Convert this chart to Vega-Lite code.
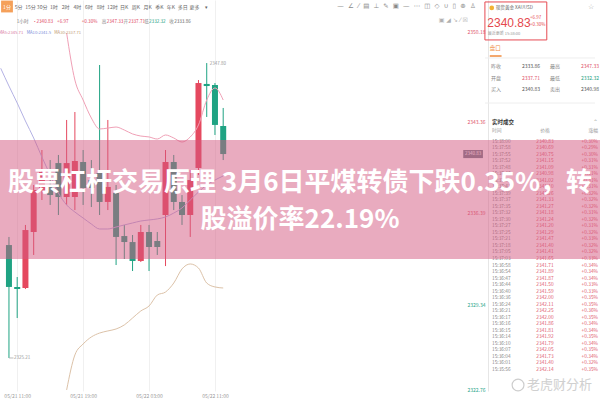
{
  "$schema": "https://vega.github.io/schema/vega-lite/v6.json",
  "width": 600,
  "height": 391,
  "autosize": {"type": "none"},
  "padding": {"left": 0, "top": 0, "right": 0, "bottom": 9},
  "background": "#ffffff",
  "config": {"view": {"stroke": null}, "font": "Noto Sans CJK SC"},
  "datasets": {
    "candles": [
      {"i": 0, "o": 2333.86, "h": 2334.48, "l": 2325.21, "c": 2330.65},
      {"i": 1, "o": 2330.65, "h": 2331.41, "l": 2328.27, "c": 2330.49},
      {"i": 2, "o": 2330.57, "h": 2335.40, "l": 2330.49, "c": 2335.01},
      {"i": 3, "o": 2334.86, "h": 2338.46, "l": 2333.10, "c": 2338.08},
      {"i": 4, "o": 2338.08, "h": 2341.14, "l": 2337.31, "c": 2339.46},
      {"i": 5, "o": 2338.46, "h": 2340.37, "l": 2336.93, "c": 2337.69},
      {"i": 6, "o": 2340.14, "h": 2340.76, "l": 2336.16, "c": 2337.54},
      {"i": 7, "o": 2337.54, "h": 2343.44, "l": 2336.93, "c": 2340.14},
      {"i": 8, "o": 2337.54, "h": 2344.05, "l": 2336.54, "c": 2340.30},
      {"i": 9, "o": 2340.22, "h": 2341.14, "l": 2336.93, "c": 2338.23},
      {"i": 10, "o": 2338.84, "h": 2340.37, "l": 2336.77, "c": 2338.23},
      {"i": 11, "o": 2339.38, "h": 2347.65, "l": 2336.16, "c": 2337.16},
      {"i": 12, "o": 2337.16, "h": 2343.44, "l": 2336.54, "c": 2338.31},
      {"i": 13, "o": 2337.85, "h": 2338.46, "l": 2332.33, "c": 2334.48},
      {"i": 14, "o": 2334.55, "h": 2335.40, "l": 2332.79, "c": 2334.09},
      {"i": 15, "o": 2334.09, "h": 2334.63, "l": 2331.87, "c": 2332.64},
      {"i": 16, "o": 2332.64, "h": 2335.40, "l": 2332.56, "c": 2334.86},
      {"i": 17, "o": 2334.86, "h": 2335.40, "l": 2331.87, "c": 2333.71},
      {"i": 18, "o": 2334.17, "h": 2334.86, "l": 2333.10, "c": 2333.71},
      {"i": 19, "o": 2336.16, "h": 2341.14, "l": 2332.25, "c": 2340.22},
      {"i": 20, "o": 2340.22, "h": 2340.76, "l": 2336.54, "c": 2337.16},
      {"i": 21, "o": 2337.16, "h": 2337.69, "l": 2335.40, "c": 2336.16},
      {"i": 22, "o": 2336.16, "h": 2339.61, "l": 2334.48, "c": 2338.84},
      {"i": 23, "o": 2339.76, "h": 2346.50, "l": 2339.23, "c": 2346.27},
      {"i": 24, "o": 2346.20, "h": 2347.80, "l": 2343.67, "c": 2346.04},
      {"i": 25, "o": 2346.12, "h": 2346.27, "l": 2342.29, "c": 2343.06},
      {"i": 26, "o": 2342.98, "h": 2344.36, "l": 2340.37, "c": 2340.83}
    ],
    "ma": [
      {"ma": "MA5", "i": 7, "p": 2350.10}, {"ma": "MA5", "i": 8, "p": 2346.50}, {"ma": "MA5", "i": 9, "p": 2344.97},
      {"ma": "MA5", "i": 10, "p": 2343.59}, {"ma": "MA5", "i": 11, "p": 2342.75}, {"ma": "MA5", "i": 12, "p": 2342.82},
      {"ma": "MA5", "i": 13, "p": 2342.90}, {"ma": "MA5", "i": 14, "p": 2342.67}, {"ma": "MA5", "i": 15, "p": 2342.37},
      {"ma": "MA5", "i": 16, "p": 2342.21}, {"ma": "MA5", "i": 17, "p": 2342.14}, {"ma": "MA5", "i": 18, "p": 2341.98},
      {"ma": "MA5", "i": 19, "p": 2342.29}, {"ma": "MA5", "i": 20, "p": 2342.06}, {"ma": "MA5", "i": 21, "p": 2341.75},
      {"ma": "MA5", "i": 22, "p": 2342.14}, {"ma": "MA5", "i": 23, "p": 2343.06}, {"ma": "MA5", "i": 24, "p": 2344.97},
      {"ma": "MA5", "i": 25, "p": 2345.89}, {"ma": "MA5", "i": 26, "p": 2344.97},
      {"ma": "MA10", "i": -1, "p": 2347.40}, {"ma": "MA10", "i": 0, "p": 2346.04}, {"ma": "MA10", "i": 1, "p": 2344.74},
      {"ma": "MA10", "i": 2, "p": 2343.36}, {"ma": "MA10", "i": 3, "p": 2342.06}, {"ma": "MA10", "i": 4, "p": 2340.60},
      {"ma": "MA10", "i": 5, "p": 2339.23}, {"ma": "MA10", "i": 6, "p": 2337.85}, {"ma": "MA10", "i": 7, "p": 2336.93},
      {"ma": "MA10", "i": 8, "p": 2336.39}, {"ma": "MA10", "i": 9, "p": 2335.93}, {"ma": "MA10", "i": 10, "p": 2335.47},
      {"ma": "MA10", "i": 11, "p": 2335.09}, {"ma": "MA10", "i": 12, "p": 2335.09}, {"ma": "MA10", "i": 13, "p": 2335.24},
      {"ma": "MA10", "i": 14, "p": 2335.40}, {"ma": "MA10", "i": 15, "p": 2335.55}, {"ma": "MA10", "i": 16, "p": 2335.70},
      {"ma": "MA10", "i": 17, "p": 2335.78}, {"ma": "MA10", "i": 18, "p": 2335.86}, {"ma": "MA10", "i": 19, "p": 2336.01},
      {"ma": "MA10", "i": 20, "p": 2336.31}, {"ma": "MA10", "i": 21, "p": 2336.70}, {"ma": "MA10", "i": 22, "p": 2337.31},
      {"ma": "MA10", "i": 23, "p": 2337.92}, {"ma": "MA10", "i": 24, "p": 2338.46}, {"ma": "MA10", "i": 25, "p": 2338.84},
      {"ma": "MA10", "i": 26, "p": 2339.15},
      {"ma": "MA30", "i": 7, "p": 2322.76}, {"ma": "MA30", "i": 8, "p": 2325.44}, {"ma": "MA30", "i": 9, "p": 2326.28},
      {"ma": "MA30", "i": 10, "p": 2326.82}, {"ma": "MA30", "i": 11, "p": 2327.12}, {"ma": "MA30", "i": 12, "p": 2327.28},
      {"ma": "MA30", "i": 13, "p": 2327.43}, {"ma": "MA30", "i": 14, "p": 2327.74}, {"ma": "MA30", "i": 15, "p": 2328.27},
      {"ma": "MA30", "i": 16, "p": 2328.81}, {"ma": "MA30", "i": 17, "p": 2329.19}, {"ma": "MA30", "i": 18, "p": 2330.03},
      {"ma": "MA30", "i": 19, "p": 2330.26}, {"ma": "MA30", "i": 20, "p": 2330.95}, {"ma": "MA30", "i": 21, "p": 2332.03},
      {"ma": "MA30", "i": 22, "p": 2332.41}, {"ma": "MA30", "i": 23, "p": 2332.10}, {"ma": "MA30", "i": 24, "p": 2330.95},
      {"ma": "MA30", "i": 25, "p": 2330.65}, {"ma": "MA30", "i": 26, "p": 2330.57}
    ],
    "tabs": [
      {"k": 0, "t": "1分"}, {"k": 1, "t": "5分"}, {"k": 2, "t": "15分"}, {"k": 3, "t": "30分"},
      {"k": 4, "t": "1时"}, {"k": 5, "t": "2时"}, {"k": 6, "t": "4时"}, {"k": 7, "t": "6时"},
      {"k": 8, "t": "8时"}, {"k": 9, "t": "12时"}, {"k": 10, "t": "日K"}, {"k": 11, "t": "周K"},
      {"k": 12, "t": "月K"}, {"k": 13, "t": "季K"}, {"k": 14, "t": "年K"}, {"k": 15, "t": "多日"},
      {"k": 16, "t": "更多"}, {"k": 17, "t": "▾"}
    ],
    "stats": [
      {"r": 1, "pair": 1, "label": "昨收", "v": 2333.86, "kind": "prev"},
      {"r": 1, "pair": 2, "label": "最高", "v": 2347.33, "kind": "high"},
      {"r": 2, "pair": 1, "label": "开盘", "v": 2337.71, "kind": "open"},
      {"r": 2, "pair": 2, "label": "最低", "v": 2332.32, "kind": "low"},
      {"r": 3, "pair": 1, "label": "买入", "v": 2340.83, "kind": "bid"},
      {"r": 3, "pair": 2, "label": "卖出", "v": 2340.98, "kind": "ask"}
    ],
    "trades": [
      {"n": 1, "time": "15:38:00", "price": 2340.83, "chg": "+0.30%"},
      {"n": 2, "time": "15:37:58", "price": 2340.69, "chg": "+0.29%"},
      {"n": 3, "time": "15:37:55", "price": 2340.75, "chg": "+0.30%"},
      {"n": 4, "time": "15:37:52", "price": 2341.15, "chg": "+0.31%"},
      {"n": 5, "time": "15:37:48", "price": 2341.09, "chg": "+0.31%"},
      {"n": 6, "time": "15:37:46", "price": 2340.98, "chg": "+0.31%"},
      {"n": 7, "time": "15:37:44", "price": 2341.02, "chg": "+0.31%"},
      {"n": 8, "time": "15:37:41", "price": 2341.10, "chg": "+0.31%"},
      {"n": 9, "time": "15:37:39", "price": 2341.26, "chg": "+0.32%"},
      {"n": 10, "time": "15:37:37", "price": 2341.33, "chg": "+0.32%"},
      {"n": 11, "time": "15:37:35", "price": 2341.27, "chg": "+0.32%"},
      {"n": 12, "time": "15:37:32", "price": 2341.18, "chg": "+0.31%"},
      {"n": 13, "time": "15:37:30", "price": 2341.24, "chg": "+0.32%"},
      {"n": 14, "time": "15:37:27", "price": 2341.20, "chg": "+0.31%"},
      {"n": 15, "time": "15:37:25", "price": 2341.29, "chg": "+0.32%"},
      {"n": 16, "time": "15:37:21", "price": 2341.47, "chg": "+0.33%"},
      {"n": 17, "time": "15:37:18", "price": 2341.40, "chg": "+0.32%"},
      {"n": 18, "time": "15:37:05", "price": 2341.41, "chg": "+0.32%"},
      {"n": 19, "time": "15:37:03", "price": 2341.65, "chg": "+0.33%"},
      {"n": 20, "time": "15:36:58", "price": 2341.71, "chg": "+0.34%"},
      {"n": 21, "time": "15:36:54", "price": 2341.89, "chg": "+0.34%"},
      {"n": 22, "time": "15:36:47", "price": 2341.87, "chg": "+0.34%"},
      {"n": 23, "time": "15:36:44", "price": 2341.50, "chg": "+0.33%"},
      {"n": 24, "time": "15:36:40", "price": 2341.59, "chg": "+0.33%"},
      {"n": 25, "time": "15:36:36", "price": 2342.00, "chg": "+0.35%"},
      {"n": 26, "time": "15:36:24", "price": 2342.11, "chg": "+0.35%"},
      {"n": 27, "time": "15:36:21", "price": 2342.25, "chg": "+0.36%"},
      {"n": 28, "time": "15:36:17", "price": 2342.00, "chg": "+0.35%"},
      {"n": 29, "time": "15:36:16", "price": 2341.86, "chg": "+0.34%"},
      {"n": 30, "time": "15:36:15", "price": 2341.81, "chg": "+0.34%"},
      {"n": 31, "time": "15:36:14", "price": 2341.92, "chg": "+0.35%"},
      {"n": 32, "time": "15:36:10", "price": 2341.79, "chg": "+0.34%"},
      {"n": 33, "time": "15:36:07", "price": 2342.05, "chg": "+0.35%"},
      {"n": 34, "time": "15:36:04", "price": 2341.73, "chg": "+0.34%"},
      {"n": 35, "time": "15:36:01", "price": 2341.40, "chg": "+0.32%"},
      {"n": 36, "time": "15:35:56", "price": 2342.14, "chg": "+0.35%"}
    ]
  },
  "layer": [
    {
      "layer": [
        {
          "data": {"name": "candles"},
          "mark": {"type": "rule", "strokeWidth": 1},
          "encoding": {
            "x": {"field": "i", "type": "quantitative",
              "scale": {"domain": [-0.48, 71.12], "nice": false, "zero": false},
              "axis": {"values": [1, 9, 17, 25], "title": null,
                "labelExpr": "datum.value == 1 ? '05/21 11:00' : datum.value == 9 ? '05/21 19:00' : datum.value == 17 ? '05/22 03:00' : '05/22 11:00'",
                "labelFontSize": 5, "labelColor": "#9a9a9a", "ticks": false, "domain": false,
                "grid": true, "gridColor": "#f0f0f0", "labelPadding": 2, "labelFlush": false}},
            "y": {"field": "l", "type": "quantitative",
              "scale": {"domain": [2322.68, 2352.63], "nice": false, "zero": false},
              "axis": {"orient": "left", "offset": -488, "values": [2350.18, 2343.36, 2336.39, 2329.34, 2322.76],
                "format": ".2f", "title": null, "labelFontSize": 5,
                "labelColor": {"condition": {"test": "datum.value > 2333", "value": "#e0566b"}, "value": "#2aa58a"},
                "ticks": false, "domain": true, "domainColor": "#e6e6e6", "grid": false, "labelPadding": 3}},
            "y2": {"field": "h"},
            "color": {"condition": {"test": "datum.c >= datum.o", "value": "#e5495f"}, "value": "#1fa383"}
          }
        },
        {
          "data": {"name": "candles"},
          "mark": {"type": "bar", "width": 6},
          "encoding": {
            "x": {"field": "i", "type": "quantitative"},
            "y": {"field": "o", "type": "quantitative"},
            "y2": {"field": "c"},
            "color": {"condition": {"test": "datum.c >= datum.o", "value": "#e5495f"}, "value": "#1fa383"}
          }
        },
        {
          "data": {"name": "ma"},
          "mark": {"type": "line", "strokeWidth": 1, "clip": true, "interpolate": "monotone"},
          "encoding": {
            "x": {"field": "i", "type": "quantitative"},
            "y": {"field": "p", "type": "quantitative"},
            "color": {"field": "ma", "type": "nominal", "legend": null,
              "scale": {"domain": ["MA5", "MA10", "MA30"], "range": ["#f0a0b6", "#b4b2e4", "#dcc2a8"]}}
          }
        },
        {"data": {"values": [{}]}, "mark": {"type": "rule", "color": "#aaaaaa", "strokeWidth": 0.8},
          "encoding": {"x": {"datum": 0}, "x2": {"datum": 0.55}, "y": {"datum": 2325.21}}},
        {"data": {"values": [{}]}, "mark": {"type": "text", "align": "left", "baseline": "middle", "fontSize": 4.5, "color": "#999999", "dx": 5},
          "encoding": {"x": {"datum": 0}, "y": {"datum": 2325.21}, "text": {"value": "2325.21"}}},
        {"data": {"values": [{}]}, "mark": {"type": "text", "align": "left", "baseline": "middle", "fontSize": 4.5, "color": "#999999", "dx": 3},
          "encoding": {"x": {"datum": 24}, "y": {"datum": 2347.72}, "text": {"value": "2347.80"}}},
        {"data": {"values": [{}]}, "mark": {"type": "rect", "color": "#6f7d89"},
          "encoding": {"x": {"datum": 55.13}, "x2": {"datum": 57.52}, "y": {"datum": 2341.14}, "y2": {"datum": 2340.52}}},
        {"data": {"values": [{}]}, "mark": {"type": "text", "align": "center", "baseline": "middle", "fontSize": 4.5, "color": "#ffffff"},
          "encoding": {"x": {"datum": 56.32}, "y": {"datum": 2340.83}, "text": {"value": "2340.83"}}},

        {"data": {"values": [{}]}, "mark": {"type": "text", "align": "left", "baseline": "middle", "fontSize": 4.6, "color": "#777777"},
          "encoding": {"x": {"datum": 0.95}, "y": {"datum": 2350.98}, "text": {"value": "1小时"}}},
        {"data": {"values": [{}]}, "mark": {"type": "text", "align": "left", "baseline": "middle", "fontSize": 4.6, "color": "#e0485f"},
          "encoding": {"x": {"datum": 2.86}, "y": {"datum": 2350.98}, "text": {"value": "•"}}},
        {"data": {"values": [{}]}, "mark": {"type": "text", "align": "left", "baseline": "middle", "fontSize": 4.6, "color": "#e0485f"},
          "encoding": {"x": {"datum": 3.34}, "y": {"datum": 2350.98}, "text": {"value": "2340.83"}}},
        {"data": {"values": [{}]}, "mark": {"type": "text", "align": "left", "baseline": "middle", "fontSize": 4.6, "color": "#e0485f"},
          "encoding": {"x": {"datum": 5.84}, "y": {"datum": 2350.98}, "text": {"value": "+6.97"}}},
        {"data": {"values": [{}]}, "mark": {"type": "text", "align": "left", "baseline": "middle", "fontSize": 4.6, "color": "#e0485f"},
          "encoding": {"x": {"datum": 8.83}, "y": {"datum": 2350.98}, "text": {"value": "+0.30%"}}},
        {"data": {"values": [{}]}, "mark": {"type": "text", "align": "left", "baseline": "middle", "fontSize": 4.6, "color": "#888888"},
          "encoding": {"x": {"datum": 11.27}, "y": {"datum": 2350.98}, "text": {"value": "高"}}},
        {"data": {"values": [{}]}, "mark": {"type": "text", "align": "left", "baseline": "middle", "fontSize": 4.6, "color": "#e0485f"},
          "encoding": {"x": {"datum": 11.87}, "y": {"datum": 2350.98}, "text": {"value": "2347.33"}}},
        {"data": {"values": [{}]}, "mark": {"type": "text", "align": "left", "baseline": "middle", "fontSize": 4.6, "color": "#888888"},
          "encoding": {"x": {"datum": 13.90}, "y": {"datum": 2350.98}, "text": {"value": "开"}}},
        {"data": {"values": [{}]}, "mark": {"type": "text", "align": "left", "baseline": "middle", "fontSize": 4.6, "color": "#e0485f"},
          "encoding": {"x": {"datum": 14.50}, "y": {"datum": 2350.98}, "text": {"value": "2337.71"}}},
        {"data": {"values": [{}]}, "mark": {"type": "text", "align": "left", "baseline": "middle", "fontSize": 4.6, "color": "#888888"},
          "encoding": {"x": {"datum": 16.41}, "y": {"datum": 2350.98}, "text": {"value": "低"}}},
        {"data": {"values": [{}]}, "mark": {"type": "text", "align": "left", "baseline": "middle", "fontSize": 4.6, "color": "#1fa383"},
          "encoding": {"x": {"datum": 17.00}, "y": {"datum": 2350.98}, "text": {"value": "2332.32"}}},
        {"data": {"values": [{}]}, "mark": {"type": "text", "align": "left", "baseline": "middle", "fontSize": 4.6, "color": "#888888"},
          "encoding": {"x": {"datum": 19.45}, "y": {"datum": 2350.98}, "text": {"value": "收"}}},
        {"data": {"values": [{}]}, "mark": {"type": "text", "align": "left", "baseline": "middle", "fontSize": 4.6, "color": "#666666"},
          "encoding": {"x": {"datum": 20.05}, "y": {"datum": 2350.98}, "text": {"value": "2333.86"}}},

        {"data": {"values": [{}]}, "mark": {"type": "text", "align": "right", "baseline": "middle", "fontSize": 4.2, "color": "#d97aa0"},
          "encoding": {"x": {"datum": 1.73}, "y": {"datum": 2350.10}, "text": {"value": "MA5:2345.71"}}},
        {"data": {"values": [{}]}, "mark": {"type": "text", "align": "left", "baseline": "middle", "fontSize": 4.2, "color": "#7b8fd9"},
          "encoding": {"x": {"datum": 2.145}, "y": {"datum": 2350.10}, "text": {"value": "MA10:2341.5"}}},
        {"data": {"values": [{}]}, "mark": {"type": "text", "align": "left", "baseline": "middle", "fontSize": 4.2, "color": "#c39a74"},
          "encoding": {"x": {"datum": 5.49}, "y": {"datum": 2350.10}, "text": {"value": "MA30:2337.71"}}},

        {"data": {"values": [{}]}, "mark": {"type": "text", "align": "left", "baseline": "middle", "fontSize": 6.5, "color": "#8a8a8a", "font": "DejaVu Sans"},
          "encoding": {"x": {"datum": 39.85}, "y": {"datum": 2352.17}, "text": {"value": "—\u00a0\u00a0∠\u00a0\u00a0⁄\u00a0\u00a0▤\u00a0\u00a0⊥\u00a0\u00a0✎\u00a0\u00a0▣\u00a0\u00a0—\u00a0\u00a0⋯\u00a0\u00a0◫\u00a0\u00a0◇\u00a0\u00a0∪\u00a0\u00a0▯\u00a0\u00a0⊕\u00a0\u00a0♙"}}},
        {"data": {"values": [{}]}, "mark": {"type": "text", "align": "left", "baseline": "middle", "fontSize": 6, "color": "#b0b0b0", "font": "DejaVu Sans"},
          "encoding": {"x": {"datum": 52.15}, "y": {"datum": 2351.10}, "text": {"value": "▣\u00a0◢\u00a0↘\u00a0⁄\u00a0☒"}}},

        {"data": {"values": [{}]}, "mark": {"type": "rect", "fill": "transparent", "stroke": "#e64a52", "strokeWidth": 1},
          "encoding": {"x": {"datum": 57.76}, "x2": {"datum": 65.27}, "y": {"datum": 2352.48}, "y2": {"datum": 2349.57}}},
        {"data": {"values": [{}]}, "mark": {"type": "point", "shape": "circle", "filled": true, "size": 22, "color": "#f2b234", "opacity": 1},
          "encoding": {"x": {"datum": 58.59}, "y": {"datum": 2352.02}}},
        {"data": {"values": [{}]}, "mark": {"type": "text", "align": "left", "baseline": "middle", "fontSize": 4.6, "color": "#666666"},
          "encoding": {"x": {"datum": 59.07}, "y": {"datum": 2352.02}, "text": {"value": "现货黄金  XAUUSD"}}},
        {"data": {"values": [{}]}, "mark": {"type": "text", "align": "left", "baseline": "middle", "fontSize": 12, "color": "#e5484d", "font": "Liberation Sans Narrow, Liberation Sans, sans-serif"},
          "encoding": {"x": {"datum": 58.05}, "y": {"datum": 2350.87}, "text": {"value": "2340.83"}}},
        {"data": {"values": [{}]}, "mark": {"type": "text", "align": "left", "baseline": "middle", "fontSize": 4.5, "color": "#e5484d"},
          "encoding": {"x": {"datum": 63.24}, "y": {"datum": 2351.25}, "text": {"value": "+6.97"}}},
        {"data": {"values": [{}]}, "mark": {"type": "text", "align": "left", "baseline": "middle", "fontSize": 4.5, "color": "#e5484d"},
          "encoding": {"x": {"datum": 63.24}, "y": {"datum": 2350.72}, "text": {"value": "+0.30%"}}},
        {"data": {"values": [{}]}, "mark": {"type": "text", "align": "left", "baseline": "middle", "fontSize": 4, "color": "#999999"},
          "encoding": {"x": {"datum": 58.11}, "y": {"datum": 2350.03}, "text": {"value": "最近更新 15:38:00"}}},
        {"data": {"values": [{}]}, "mark": {"type": "text", "align": "center", "baseline": "middle", "fontSize": 7, "color": "#aaaaaa", "font": "DejaVu Sans"},
          "encoding": {"x": {"datum": 70.64}, "y": {"datum": 2352.09}, "text": {"value": "☆"}}},
        {"data": {"values": [{}]}, "mark": {"type": "text", "align": "left", "baseline": "middle", "fontSize": 5.5, "color": "#f08a3c"},
          "encoding": {"x": {"datum": 58.35}, "y": {"datum": 2348.95}, "text": {"value": "盘口"}}},
        {"data": {"values": [{}]}, "mark": {"type": "rule", "color": "#f08a3c", "strokeWidth": 1.5},
          "encoding": {"x": {"datum": 58.35}, "x2": {"datum": 59.78}, "y": {"datum": 2348.34}}},
        {"data": {"values": [{}]}, "mark": {"type": "rule", "color": "#eeeeee", "strokeWidth": 1},
          "encoding": {"x": {"datum": 57.76}, "x2": {"datum": 71.12}, "y": {"datum": 2348.19}}},
        {"data": {"values": [{}]}, "mark": {"type": "rule", "color": "#eeeeee", "strokeWidth": 1},
          "encoding": {"x": {"datum": 57.76}, "x2": {"datum": 71.12}, "y": {"datum": 2344.74}}}
      ]
    },
    {
      "data": {"name": "tabs"},
      "layer": [
        {
          "transform": [{"filter": "datum.k == 0"}],
          "mark": {"type": "point", "shape": "square", "filled": true, "size": 140, "color": "#f5a05a", "opacity": 1},
          "encoding": {
            "x": {"field": "k", "type": "quantitative", "scale": {"domain": [0, 17], "range": [7, 217.8]}, "axis": null},
            "y": {"datum": 0.5, "type": "quantitative", "scale": {"domain": [0, 1], "range": [1, 12]}, "axis": null}
          }
        },
        {
          "mark": {"type": "text", "align": "center", "baseline": "middle", "fontSize": 5},
          "encoding": {
            "x": {"field": "k", "type": "quantitative"},
            "y": {"datum": 0.5, "type": "quantitative"},
            "text": {"field": "t"},
            "color": {"condition": {"test": "datum.k == 0", "value": "#ffffff"}, "value": "#666666"}
          }
        }
      ]
    },
    {
      "data": {"name": "stats"},
      "layer": [
        {
          "mark": {"type": "text", "align": "left", "baseline": "middle", "fontSize": 5, "color": "#888888"},
          "encoding": {
            "x": {"field": "pair", "type": "quantitative", "scale": {"domain": [1, 2], "range": [491, 550]}, "axis": null},
            "y": {"field": "r", "type": "quantitative", "scale": {"domain": [1, 3], "range": [66, 89]}, "axis": null},
            "text": {"field": "label"}
          }
        },
        {
          "mark": {"type": "text", "align": "left", "baseline": "middle", "fontSize": 5, "dx": 31},
          "encoding": {
            "x": {"field": "pair", "type": "quantitative"},
            "y": {"field": "r", "type": "quantitative"},
            "text": {"field": "v", "format": ".2f"},
            "color": {"field": "kind", "type": "nominal", "legend": null,
              "scale": {"domain": ["prev", "high", "open", "low", "bid", "ask"], "range": ["#555555", "#e0566b", "#e0566b", "#1fa383", "#555555", "#555555"]}}
          }
        }
      ]
    },
    {
      "data": {"name": "trades"},
      "layer": [
        {
          "mark": {"type": "text", "align": "left", "baseline": "middle", "fontSize": 4.8, "color": "#888888"},
          "encoding": {
            "x": {"datum": "time", "type": "nominal", "scale": {"type": "point", "domain": ["time", "price", "chg"], "range": [492, 598], "padding": 0}, "axis": null},
            "y": {"field": "n", "type": "quantitative", "scale": {"domain": [1, 36], "range": [135, 396]}, "axis": null},
            "text": {"field": "time"}
          }
        },
        {
          "mark": {"type": "text", "align": "center", "baseline": "middle", "fontSize": 4.8, "color": "#e05a6e"},
          "encoding": {
            "x": {"datum": "price", "type": "nominal"},
            "y": {"field": "n", "type": "quantitative"},
            "text": {"field": "price", "format": ".2f"}
          }
        },
        {
          "mark": {"type": "text", "align": "right", "baseline": "middle", "fontSize": 4.8, "color": "#e05a6e"},
          "encoding": {
            "x": {"datum": "chg", "type": "nominal"},
            "y": {"field": "n", "type": "quantitative"},
            "text": {"field": "chg"}
          }
        },
        {"data": {"values": [{}]}, "mark": {"type": "text", "align": "left", "baseline": "middle", "fontSize": 5.5, "fontWeight": "bold", "color": "#333333"},
          "encoding": {"x": {"datum": "time", "type": "nominal"}, "y": {"datum": -1.95}, "text": {"value": "实时成交"}}},
        {"data": {"values": [{}]}, "mark": {"type": "text", "align": "right", "baseline": "middle", "fontSize": 6, "color": "#aaaaaa", "font": "DejaVu Sans"},
          "encoding": {"x": {"datum": "chg", "type": "nominal"}, "y": {"datum": -1.95}, "text": {"value": "⌃"}}},
        {"data": {"values": [{}]}, "mark": {"type": "text", "align": "left", "baseline": "middle", "fontSize": 4.8, "color": "#999999"},
          "encoding": {"x": {"datum": "time", "type": "nominal"}, "y": {"datum": -0.65}, "text": {"value": "时间"}}},
        {"data": {"values": [{}]}, "mark": {"type": "text", "align": "center", "baseline": "middle", "fontSize": 4.8, "color": "#999999"},
          "encoding": {"x": {"datum": "price", "type": "nominal"}, "y": {"datum": -0.65}, "text": {"value": "价格"}}},
        {"data": {"values": [{}]}, "mark": {"type": "text", "align": "right", "baseline": "middle", "fontSize": 4.8, "color": "#999999"},
          "encoding": {"x": {"datum": "chg", "type": "nominal"}, "y": {"datum": -0.65}, "text": {"value": "涨幅"}}}
      ]
    },
    {
      "layer": [
        {"data": {"values": [{}]}, "mark": {"type": "rect", "color": "#d4587f", "opacity": 0.5},
          "encoding": {
            "y": {"datum": 2341.91, "type": "quantitative", "scale": {"domain": [2322.68, 2352.63], "nice": false, "zero": false}, "axis": null},
            "y2": {"datum": 2332.79}
          }},
        {"data": {"values": [{}]}, "mark": {"type": "text", "align": "center", "baseline": "middle", "fontSize": 26, "fontWeight": "bold", "color": "#ffffff", "lineBreak": "\n", "lineHeight": 37},
          "encoding": {
            "y": {"datum": 2338.61, "type": "quantitative"},
            "text": {"value": "股票杠杆交易原理 3月6日平煤转债下跌0.35%，转\n股溢价率22.19%"}
          }},
        {"data": {"values": [{}]}, "mark": {"type": "point", "shape": "circle", "filled": false, "size": 140, "color": "#c8c8c8", "strokeWidth": 1.2, "opacity": 0.9},
          "encoding": {
            "x": {"datum": 61.34, "type": "quantitative", "scale": {"domain": [-0.48, 71.12], "nice": false, "zero": false}, "axis": null},
            "y": {"datum": 2323.14, "type": "quantitative"}
          }},
        {"data": {"values": [{}]}, "mark": {"type": "text", "align": "left", "baseline": "middle", "fontSize": 13, "color": "#c8c8c8", "opacity": 0.85},
          "encoding": {
            "x": {"datum": 62.41, "type": "quantitative"},
            "y": {"datum": 2323.14, "type": "quantitative"},
            "text": {"value": "老虎财分析"}
          }}
      ]
    }
  ],
  "resolve": {"scale": {"x": "independent", "y": "independent", "color": "independent"}}
}
